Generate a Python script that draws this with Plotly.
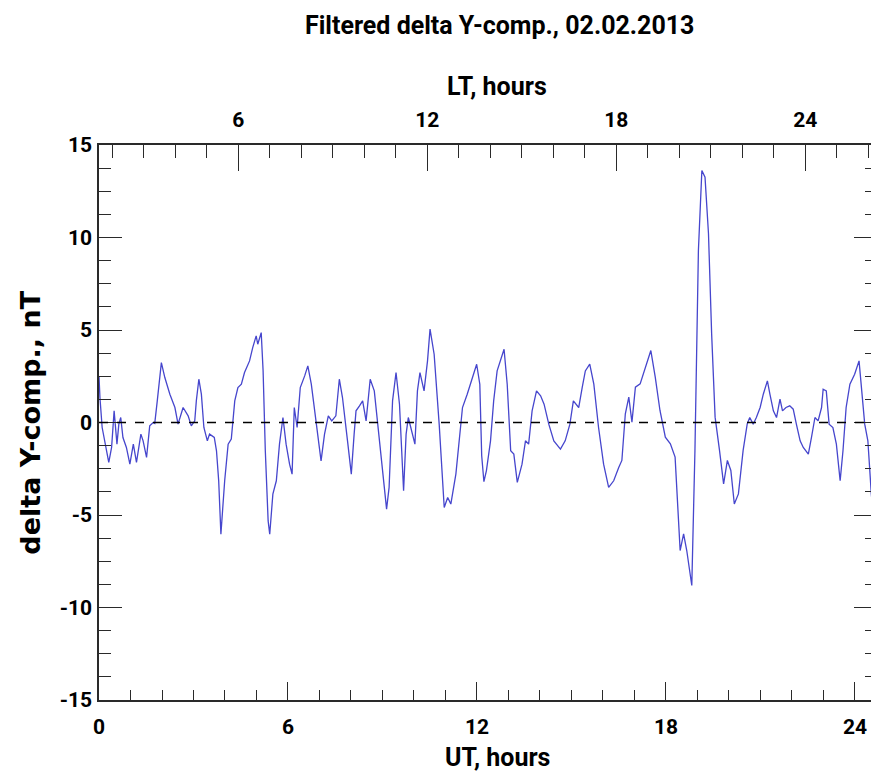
import plotly.graph_objects as go

# UT hours and filtered delta Y-component (nT)
ut_hours = [
    0.00, 0.03, 0.10, 0.31, 0.40, 0.48, 0.57, 0.63, 0.69, 0.76, 0.87, 0.98, 1.09, 1.19, 1.33, 1.40,
    1.51, 1.61, 1.72, 1.77, 1.85, 1.98, 2.09, 2.25, 2.41, 2.51, 2.67, 2.83, 2.93, 3.04, 3.09, 3.17,
    3.25, 3.33, 3.44, 3.51, 3.66, 3.73, 3.80, 3.87, 3.99, 4.10, 4.20, 4.31, 4.41, 4.52, 4.62, 4.78,
    4.88, 4.99, 5.04, 5.15, 5.21, 5.28, 5.37, 5.42, 5.52, 5.63, 5.73, 5.84, 5.94, 6.05, 6.13, 6.20,
    6.29, 6.39, 6.53, 6.63, 6.74, 6.84, 6.93, 7.05, 7.16, 7.28, 7.39, 7.52, 7.63, 7.73, 7.89, 8.01,
    8.10, 8.16, 8.27, 8.37, 8.48, 8.61, 8.74, 8.90, 9.00, 9.13, 9.21, 9.32, 9.43, 9.54, 9.67, 9.75,
    9.82, 9.92, 10.03, 10.11, 10.19, 10.32, 10.43, 10.51, 10.64, 10.80, 10.96, 11.07, 11.17, 11.33,
    11.43, 11.54, 11.69, 11.85, 11.99, 12.09, 12.15, 12.22, 12.30, 12.43, 12.53, 12.64, 12.75, 12.86,
    12.96, 13.07, 13.17, 13.28, 13.43, 13.54, 13.64, 13.75, 13.89, 14.02, 14.13, 14.28, 14.44, 14.65,
    14.80, 14.95, 15.06, 15.23, 15.34, 15.44, 15.58, 15.71, 15.86, 16.02, 16.18, 16.34, 16.50, 16.60,
    16.71, 16.82, 16.92, 17.03, 17.18, 17.34, 17.52, 17.66, 17.81, 17.98, 18.14, 18.29, 18.45, 18.56,
    18.66, 18.82, 18.92, 19.03, 19.14, 19.24, 19.35, 19.45, 19.56, 19.70, 19.83, 19.95, 20.06, 20.17,
    20.30, 20.45, 20.58, 20.66, 20.77, 20.87, 20.99, 21.09, 21.22, 21.30, 21.41, 21.51, 21.62, 21.70,
    21.81, 21.93, 22.04, 22.14, 22.26, 22.36, 22.52, 22.62, 22.73, 22.83, 22.94, 22.99, 23.09, 23.18,
    23.30, 23.41, 23.53, 23.62, 23.72, 23.84, 23.99, 24.13, 24.20, 24.31, 24.41, 24.52, 24.62, 24.70,
]
delta_y = [
    2.50, 1.35, -0.27, -2.16, -1.35, 0.63, -1.17, -0.09, 0.27, -0.81, -1.35, -2.25, -1.17, -2.16, -0.63, -0.99,
    -1.89, -0.18, 0.00, -0.05, 1.17, 3.24, 2.43, 1.53, 0.81, -0.09, 0.81, 0.36, -0.18, 0.09, 1.17, 2.34,
    1.53, -0.27, -0.99, -0.63, -0.81, -1.53, -3.15, -6.04, -3.15, -1.17, -0.90, 1.17, 1.89, 2.07, 2.70, 3.33,
    4.05, 4.68, 4.23, 4.86, 2.79, -1.53, -5.32, -6.04, -3.87, -3.15, -1.17, 0.27, -1.17, -2.25, -2.79, 0.81,
    -0.27, 1.89, 2.52, 3.06, 2.07, 0.63, -0.45, -2.07, -0.63, 0.36, 0.09, 0.36, 2.34, 1.35, -0.99, -2.79,
    -0.63, 0.63, 0.90, 1.17, 0.09, 2.34, 1.71, -0.99, -2.79, -4.68, -3.51, 1.17, 2.70, 0.99, -3.69, -0.63,
    0.27, -0.36, -1.17, 1.71, 2.70, 1.71, 3.33, 5.05, 3.69, -0.09, -4.59, -4.05, -4.41, -2.79,
    -1.17, 0.81, 1.53, 2.43, 3.15, 2.07, -1.80, -3.20, -2.60, -0.99, 1.17, 2.79, 3.33, 3.96,
    2.07, -1.53, -1.71, -3.24, -2.25, -0.99, -1.17, 0.63, 1.71, 1.44, 0.99, -0.09, -0.99, -1.44,
    -0.99, -0.09, 1.17, 0.81, 1.89, 2.79, 3.15, 2.07, -0.27, -2.25, -3.51, -3.15, -2.43, -2.05,
    0.47, 1.37, 0.02, 1.91, 2.09, 2.99, 3.89, 2.45, 0.65, -0.79, -1.15, -1.87, -6.92, -6.02,
    -6.92, -8.81, -1.51, 9.30, 13.62, 13.26, 10.20, 4.79, 0.29, -1.51, -3.32, -2.05, -2.59, -4.40,
    -3.86, -1.51, -0.07, 0.27, -0.09, 0.27, 0.81, 1.53, 2.25, 1.53, 0.63, 0.27, 1.26, 0.63,
    0.81, 0.90, 0.72, -0.09, -0.99, -1.35, -1.71, -0.81, 0.27, 0.09, 0.81, 1.80, 1.71, -0.09,
    -0.27, -1.17, -3.15, -1.53, 0.81, 2.07, 2.61, 3.33, 2.07, -0.09, -0.99, -3.87, -5.68, -4.95,
]

ut_range = [0, 24.7]
lt_offset = 1.58  # LT = UT + offset
y_range = [-15, 15]
y_ticks = [-15, -10, -5, 0, 5, 10, 15]
y_ticktext = ["-15", "-10", "-5", "0", "5", "10", "15"]
ut_ticks = [0, 6, 12, 18, 24]
lt_ticks = [6, 12, 18, 24]

title_text = "Filtered delta Y-comp., 02.02.2013"
ut_title = "UT, hours"
lt_title = "LT, hours"
y_title = "delta Y-comp., nT"

FONT = "Roboto, Liberation Sans, sans-serif"
YFONT = "DejaVu Sans, sans-serif"
AX = "#2a2a2a"

fig = go.Figure()
fig.add_trace(go.Scatter(
    x=ut_hours, y=delta_y, mode="lines",
    line=dict(color="rgb(70,70,205)", width=1.3),
    showlegend=False, hoverinfo="skip",
))
# invisible trace to activate the top (LT) axis
fig.add_trace(go.Scatter(x=[ut_range[0] + lt_offset], y=[0], xaxis="x2", mode="markers",
                         marker=dict(opacity=0), showlegend=False, hoverinfo="skip"))

fig.add_hline(y=0, line=dict(color="black", width=1.3, dash="dash"))

tickfont = dict(family=FONT, size=21, color="black", weight="bold")

# page body has an 8px margin: compensate so the plot area matches the reference
fig.update_layout(
    width=871, height=767,
    margin=dict(l=91, r=0, t=137, b=75),
    paper_bgcolor="white", plot_bgcolor="white",
    xaxis=dict(
        range=ut_range, tickvals=ut_ticks, ticks="inside", ticklen=18, tickwidth=1.3,
        tickcolor=AX, showline=True, linecolor=AX, linewidth=1.5, mirror=False,
        showgrid=False, zeroline=False, tickfont=tickfont, ticklabelstandoff=7,
        minor=dict(dtick=1, tick0=0, ticks="inside", ticklen=10, tickwidth=1.2, tickcolor=AX, showgrid=False),
    ),
    xaxis2=dict(
        overlaying="x", side="top", anchor="y",
        range=[ut_range[0] + lt_offset, ut_range[1] + lt_offset], tickvals=lt_ticks,
        ticks="inside", ticklen=26, tickwidth=1.3, tickcolor=AX,
        showline=True, linecolor=AX, linewidth=1.5, showgrid=False, zeroline=False,
        tickfont=tickfont, ticklabelstandoff=8,
        minor=dict(dtick=1, tick0=0, ticks="inside", ticklen=13, tickwidth=1.2, tickcolor=AX, showgrid=False),
    ),
    yaxis=dict(
        range=y_range, tickvals=y_ticks, ticktext=y_ticktext, ticks="inside", ticklen=23, tickwidth=1.3,
        tickcolor=AX, showline=True, linecolor=AX, linewidth=1.5, mirror="ticks",
        showgrid=False, zeroline=False, tickfont=tickfont, ticklabelstandoff=1,
        minor=dict(dtick=1.25, tick0=0, ticks="inside", ticklen=12, tickwidth=1.2, tickcolor=AX, showgrid=False),
    ),
    annotations=[
        dict(text=title_text, xref="paper", yref="paper", x=0.515, y=1.216, showarrow=False,
             xanchor="center", yanchor="middle", font=dict(family=FONT, size=25, color="black", weight="bold")),
        dict(text=lt_title, xref="paper", yref="paper", x=0.512, y=1.105, showarrow=False,
             xanchor="center", yanchor="middle", font=dict(family=FONT, size=25, color="black", weight="bold")),
        dict(text=ut_title, xref="paper", yref="paper", x=0.512, y=-0.103, showarrow=False,
             xanchor="center", yanchor="middle", font=dict(family=FONT, size=25, color="black", weight="bold")),
        dict(text=y_title, xref="paper", yref="paper", x=-0.0885, y=0.5, showarrow=False, textangle=-90,
             xanchor="center", yanchor="middle", font=dict(family=YFONT, size=27, color="black", weight="bold")),
    ],
)

fig.write_html("out.html")
